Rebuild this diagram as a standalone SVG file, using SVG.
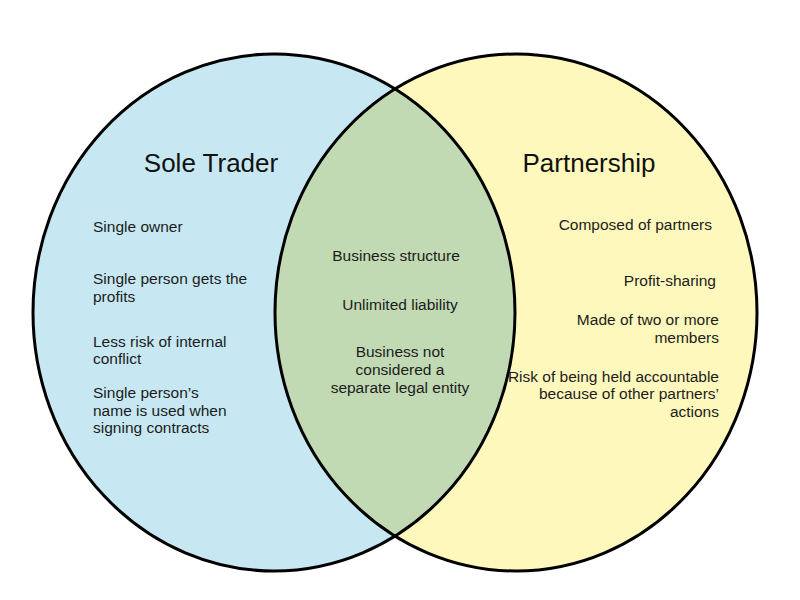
<svg xmlns="http://www.w3.org/2000/svg" width="800" height="600" viewBox="0 0 800 600">
  <style>
    .title { font-family: "Liberation Sans", Arial, sans-serif; font-size: 26px; fill: #111; }
    .item { font-family: "Liberation Sans", Arial, sans-serif; font-size: 15.5px; fill: #1c1c1c; }
    .outline { fill: none; stroke: #000; stroke-width: 3; }
  </style>
  <defs>
    <clipPath id="clipLeft">
      <ellipse cx="274" cy="312.5" rx="241" ry="258.5"/>
    </clipPath>
  </defs>
  <rect width="800" height="600" fill="#ffffff"/>

  <g id="sole-trader">
    <ellipse cx="274" cy="312.5" rx="241" ry="258.5" fill="#c7e8f3"/>
  </g>
  <g id="partnership">
    <ellipse cx="516" cy="312.5" rx="241" ry="258.5" fill="#fff8bd"/>
  </g>
  <g id="overlap">
    <ellipse cx="516" cy="312.5" rx="241" ry="258.5" fill="#c1dab3" clip-path="url(#clipLeft)"/>
  </g>
  <g id="outlines">
    <ellipse class="outline" cx="274" cy="312.5" rx="241" ry="258.5"/>
    <ellipse class="outline" cx="516" cy="312.5" rx="241" ry="258.5"/>
  </g>

  <g id="sole-trader-text">
    <text class="title" x="211" y="172" text-anchor="middle">Sole Trader</text>
    <text class="item" x="93" y="232">Single owner</text>
    <text class="item" x="93" y="284">Single person gets the</text>
    <text class="item" x="93" y="302">profits</text>
    <text class="item" x="93" y="347">Less risk of internal</text>
    <text class="item" x="93" y="364">conflict</text>
    <text class="item" x="93" y="398">Single person’s</text>
    <text class="item" x="93" y="416">name is used when</text>
    <text class="item" x="93" y="433">signing contracts</text>
  </g>

  <g id="overlap-text">
    <text class="item" x="396" y="261" text-anchor="middle">Business structure</text>
    <text class="item" x="400" y="310" text-anchor="middle">Unlimited liability</text>
    <text class="item" x="400" y="357" text-anchor="middle">Business not</text>
    <text class="item" x="400" y="375" text-anchor="middle">considered a</text>
    <text class="item" x="400" y="393" text-anchor="middle">separate legal entity</text>
  </g>

  <g id="partnership-text">
    <text class="title" x="589" y="172" text-anchor="middle">Partnership</text>
    <text class="item" x="712" y="230" text-anchor="end">Composed of partners</text>
    <text class="item" x="716" y="286" text-anchor="end">Profit-sharing</text>
    <text class="item" x="719" y="325" text-anchor="end">Made of two or more</text>
    <text class="item" x="719" y="343" text-anchor="end">members</text>
    <text class="item" x="719" y="382" text-anchor="end">Risk of being held accountable</text>
    <text class="item" x="719" y="399" text-anchor="end">because of other partners’</text>
    <text class="item" x="719" y="417" text-anchor="end">actions</text>
  </g>

  <g id="connectors"></g>
</svg>
